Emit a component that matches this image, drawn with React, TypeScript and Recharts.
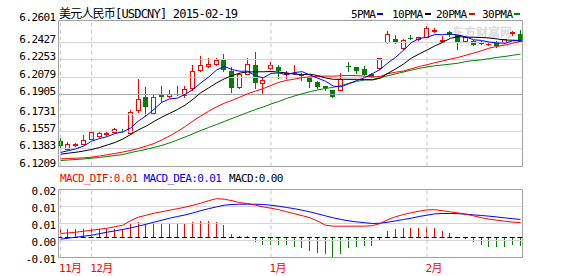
import React from "react";
import { ComposedChart, Bar, Line, XAxis, YAxis, ReferenceLine, ReferenceArea } from "recharts";

// ---------- data ----------
const OPEN = [
  6.1448, 6.1378, 6.1418, 6.1425, 6.1473, 6.1500, 6.1519, 6.1536, 6.1552, 6.1527,
  6.1743, 6.1867, 6.1717, 6.1886, 6.1881, 6.1905, 6.1886, 6.1956, 6.2131, 6.2169,
  6.2184, 6.2232, 6.2124, 6.1965, 6.2093, 6.2179, 6.2007, 6.2148, 6.2162, 6.2091,
  6.2099, 6.2077, 6.2060, 6.2013, 6.1972, 6.1934, 6.1938, 6.2167, 6.2162, 6.2134,
  6.2093, 6.2146, 6.2396, 6.2429, 6.2339, 6.2434, 6.2420, 6.2448, 6.2501, 6.2407,
  6.2491, 6.2458, 6.2401, 6.2410, 6.2382, 6.2375, 6.2396, 6.2394, 6.2484, 6.2477,
];
const HIGH = [
  6.1486, 6.1438, 6.1431, 6.1514, 6.1543, 6.1538, 6.1545, 6.1576, 6.1568, 6.1743,
  6.2045, 6.1965, 6.1893, 6.1981, 6.1943, 6.1972, 6.1972, 6.2179, 6.2267, 6.2242,
  6.2242, 6.2283, 6.2156, 6.2101, 6.2248, 6.2296, 6.2064, 6.2207, 6.2172, 6.2124,
  6.2172, 6.2099, 6.2067, 6.2020, 6.1977, 6.1939, 6.2105, 6.2203, 6.2162, 6.2165,
  6.2096, 6.2248, 6.2501, 6.2463, 6.2425, 6.2458, 6.2448, 6.2549, 6.2525, 6.2453,
  6.2503, 6.2463, 6.2444, 6.2415, 6.2410, 6.2386, 6.2401, 6.2429, 6.2501, 6.2506,
];
const LOW = [
  6.1395, 6.1374, 6.1409, 6.1424, 6.1471, 6.1495, 6.1505, 6.1533, 6.1536, 6.1521,
  6.1727, 6.1695, 6.1714, 6.1822, 6.1867, 6.1886, 6.1870, 6.1943, 6.2124, 6.2153,
  6.2181, 6.2124, 6.1917, 6.1962, 6.2091, 6.1962, 6.1910, 6.2139, 6.2053, 6.2053,
  6.2091, 6.2036, 6.1965, 6.1962, 6.1934, 6.1867, 6.1934, 6.2124, 6.2102, 6.2082,
  6.2058, 6.2143, 6.2391, 6.2382, 6.2334, 6.2425, 6.2417, 6.2444, 6.2489, 6.2401,
  6.2455, 6.2331, 6.2398, 6.2367, 6.2377, 6.2372, 6.2353, 6.2391, 6.2467, 6.2394,
];
const CLOSE = [
  6.1403, 6.1428, 6.1420, 6.1463, 6.1540, 6.1524, 6.1524, 6.1568, 6.1538, 6.1733,
  6.1854, 6.1774, 6.1874, 6.1870, 6.1898, 6.1891, 6.1950, 6.2115, 6.2172, 6.2184,
  6.2220, 6.2129, 6.1958, 6.2093, 6.2188, 6.2003, 6.2029, 6.2172, 6.2115, 6.2102,
  6.2105, 6.2072, 6.2013, 6.1965, 6.1953, 6.1870, 6.2043, 6.2162, 6.2115, 6.2086,
  6.2062, 6.2245, 6.2477, 6.2385, 6.2417, 6.2427, 6.2444, 6.2531, 6.2510, 6.2418,
  6.2458, 6.2398, 6.2442, 6.2369, 6.2388, 6.2378, 6.2358, 6.2427, 6.2489, 6.2398,
];
const MA5 = [
  6.1343, 6.1360, 6.1378, 6.1405, 6.1451, 6.1475, 6.1494, 6.1524, 6.1539, 6.1577,
  6.1643, 6.1693, 6.1755, 6.1821, 6.1854, 6.1861, 6.1897, 6.1945, 6.2005, 6.2062,
  6.2128, 6.2164, 6.2133, 6.2117, 6.2118, 6.2074, 6.2054, 6.2097, 6.2101, 6.2084,
  6.2105, 6.2113, 6.2081, 6.2051, 6.2022, 6.1975, 6.1969, 6.1999, 6.2029, 6.2055,
  6.2094, 6.2134, 6.2197, 6.2251, 6.2317, 6.2390, 6.2430, 6.2441, 6.2466, 6.2466,
  6.2472, 6.2463, 6.2445, 6.2417, 6.2411, 6.2395, 6.2387, 6.2384, 6.2408, 6.2410,
];
const MA10 = [
  6.1326, 6.1336, 6.1345, 6.1357, 6.1371, 6.1390, 6.1414, 6.1438, 6.1471, 6.1514,
  6.1559, 6.1594, 6.1639, 6.1680, 6.1716, 6.1752, 6.1795, 6.1850, 6.1913, 6.1958,
  6.2005, 6.2045, 6.2075, 6.2100, 6.2110, 6.2112, 6.2112, 6.2115, 6.2109, 6.2101,
  6.2089, 6.2084, 6.2089, 6.2076, 6.2053, 6.2040, 6.2041, 6.2040, 6.2040, 6.2038,
  6.2034, 6.2051, 6.2098, 6.2140, 6.2186, 6.2242, 6.2282, 6.2319, 6.2358, 6.2392,
  6.2431, 6.2447, 6.2443, 6.2441, 6.2439, 6.2434, 6.2425, 6.2415, 6.2413, 6.2411,
];
const MA20 = [
  6.1281, 6.1285, 6.1288, 6.1292, 6.1298, 6.1309, 6.1321, 6.1333, 6.1347, 6.1362,
  6.1381, 6.1404, 6.1428, 6.1462, 6.1500, 6.1543, 6.1590, 6.1643, 6.1691, 6.1736,
  6.1777, 6.1812, 6.1839, 6.1870, 6.1903, 6.1927, 6.1952, 6.1982, 6.2011, 6.2030,
  6.2042, 6.2057, 6.2064, 6.2069, 6.2071, 6.2070, 6.2075, 6.2077, 6.2075, 6.2070,
  6.2062, 6.2068, 6.2094, 6.2108, 6.2120, 6.2141, 6.2162, 6.2179, 6.2199, 6.2215,
  6.2233, 6.2249, 6.2270, 6.2291, 6.2312, 6.2338, 6.2354, 6.2367, 6.2385, 6.2401,
];
const MA30 = [
  6.1266, 6.1271, 6.1276, 6.1281, 6.1288, 6.1295, 6.1304, 6.1314, 6.1323, 6.1342,
  6.1357, 6.1372, 6.1391, 6.1410, 6.1434, 6.1462, 6.1491, 6.1521, 6.1552, 6.1581,
  6.1609, 6.1638, 6.1667, 6.1695, 6.1724, 6.1752, 6.1776, 6.1805, 6.1829, 6.1858,
  6.1881, 6.1903, 6.1922, 6.1939, 6.1953, 6.1964, 6.1982, 6.2002, 6.2021, 6.2033,
  6.2039, 6.2055, 6.2075, 6.2092, 6.2110, 6.2128, 6.2144, 6.2158, 6.2169, 6.2177,
  6.2185, 6.2194, 6.2210, 6.2219, 6.2226, 6.2238, 6.2249, 6.2258, 6.2270, 6.2280,
];
const DIF = [
  0.00206, 0.00224, 0.00245, 0.00274, 0.00303, 0.00333, 0.00362, 0.00406, 0.00450, 0.00583,
  0.00686, 0.00744, 0.00803, 0.00847, 0.00891, 0.00936, 0.00980, 0.01038, 0.01097, 0.01171,
  0.01230, 0.01215, 0.01171, 0.01112, 0.01088, 0.01038, 0.00988, 0.00950, 0.00906, 0.00847,
  0.00789, 0.00730, 0.00671, 0.00568, 0.00450, 0.00421, 0.00421, 0.00421, 0.00421, 0.00421,
  0.00436, 0.00500, 0.00612, 0.00700, 0.00765, 0.00818, 0.00862, 0.00900, 0.00906, 0.00877,
  0.00841, 0.00812, 0.00774, 0.00724, 0.00671, 0.00627, 0.00597, 0.00568, 0.00539, 0.00530,
];
const DEA = [
  0.00039, 0.00068, 0.00098, 0.00127, 0.00156, 0.00201, 0.00245, 0.00283, 0.00324, 0.00371,
  0.00421, 0.00480, 0.00539, 0.00597, 0.00656, 0.00706, 0.00753, 0.00812, 0.00877, 0.00936,
  0.00988, 0.01038, 0.01059, 0.01068, 0.01068, 0.01068, 0.01059, 0.01038, 0.01009, 0.00971,
  0.00936, 0.00891, 0.00841, 0.00783, 0.00724, 0.00665, 0.00618, 0.00577, 0.00547, 0.00524,
  0.00500, 0.00509, 0.00539, 0.00577, 0.00618, 0.00656, 0.00706, 0.00744, 0.00783, 0.00794,
  0.00794, 0.00788, 0.00774, 0.00753, 0.00736, 0.00715, 0.00692, 0.00665, 0.00642, 0.00618,
];
const HIST = [
  0.0025, 0.0025, 0.0025, 0.0027, 0.0028, 0.0027, 0.0025, 0.0027, 0.0027, 0.0045,
  0.0047, 0.0045, 0.0045, 0.0045, 0.0042, 0.0040, 0.0042, 0.0047, 0.0050, 0.0050,
  0.0047, 0.0037, 0.0010, 0.0005, 0.0004, -0.0013, -0.0020, -0.0020, -0.0020, -0.0020,
  -0.0026, -0.0031, -0.0038, -0.0046, -0.0048, -0.0058, -0.0048, -0.0031, -0.0026, -0.0023,
  -0.0023, -0.0008, 0.0019, 0.0025, 0.0028, 0.0028, 0.0028, 0.0031, 0.0028, 0.0019,
  0.0014, 0.0002, -0.0003, -0.0013, -0.0020, -0.0026, -0.0028, -0.0026, -0.0020, -0.0023,
];

const PRICE_DOMAIN = [6.1209, 6.2601];
const Y_TICK_VALUES = [6.2601, 6.2391, 6.2229, 6.2058, 6.1895, 6.1705, 6.1543, 6.1381, 6.1209];
const Y_TICK_LABELS = ["6.2601", "6.2427", "6.2253", "6.2079", "6.1905", "6.1731", "6.1557", "6.1383", "6.1209"];
const MID_GRID = 6.1895;

const MACD_DOMAIN = [-0.005, 0.015];
const HIST_DOMAIN = [-0.006, 0.0144];
const MACD_TICKS = [0.015, 0.01, 0.005, 0, -0.005];
const MACD_TICK_LABELS = ["0.02", "0.01", "0.01", "0.00", "-0.01"];

const MONTH_TICKS = [0, 4, 27, 47];
const MONTH_LABELS = ["11月", "12月", "1月", "2月"];

const X_DOMAIN = [-0.2565, 59.2565];

const TITLE = "美元人民币[USDCNY] 2015-02-19";
const MA_LEGEND = ["5PMA", "10PMA", "20PMA", "30PMA"];
const MACD_LEGEND = ["MACD_DIF:0.01", "MACD_DEA:0.01", "MACD:0.00"];

// ---------- styles ----------
const FONT = "'DejaVu Sans Mono', 'Noto Sans CJK SC', monospace";
const RED = "#ff0000";
const GREEN = "#008000";
const BLUE = "#0000ff";
const BLACK = "#000000";
const GRID = "#d4d4d4";
const BORDER = "#a0a0a0";
const DASH = "#c4c4c4";
const AXIS_TEXT = { fontFamily: FONT, fontSize: 11, letterSpacing: -0.6 };

const rows = OPEN.map((open, i) => ({
  i,
  open,
  high: HIGH[i],
  low: LOW[i],
  close: CLOSE[i],
  range: [LOW[i], HIGH[i]],
  ma5: MA5[i],
  ma10: MA10[i],
  ma20: MA20[i],
  ma30: MA30[i],
  dif: DIF[i],
  dea: DEA[i],
  hist: HIST[i],
}));

const Candle = (props: any) => {
  const { x, y, width, height, payload } = props;
  if (!payload || x == null || y == null || !isFinite(height)) return null;
  const { open, close, high, low } = payload;
  const col = Math.round(x + width / 2 - 0.5);
  const wx = col + 0.5;
  const span = high - low;
  const toY = (v: number) => (span > 0 ? y + ((high - v) / span) * height : y);
  const up = close >= open;
  const color = up ? RED : GREEN;
  const yH = Math.round(y);
  const yL = Math.round(y + height);
  const bTop = Math.round(toY(Math.max(open, close)));
  const bBot = Math.round(toY(Math.min(open, close)));
  const flat = bBot - bTop < 1;
  if (up) {
    return (
      <g>
        {bTop > yH && <line x1={wx} x2={wx} y1={yH} y2={bTop} stroke={color} />}
        {yL > bBot && <line x1={wx} x2={wx} y1={bBot + 1} y2={yL + 1} stroke={color} />}
        {flat ? (
          <rect x={col - 2} y={bTop} width={5} height={1} fill={color} />
        ) : (
          <rect x={col - 1.5} y={bTop + 0.5} width={4} height={bBot - bTop} fill="#ffffff" stroke={color} />
        )}
      </g>
    );
  }
  return (
    <g>
      <line x1={wx} x2={wx} y1={yH} y2={yL + 1} stroke={color} />
      <rect x={col - 2} y={bTop} width={5} height={Math.max(bBot - bTop, 1)} fill={color} />
    </g>
  );
};

const HistBar = (props: any) => {
  const { x, y, width, height, payload } = props;
  if (!payload || x == null || y == null || !isFinite(height)) return null;
  const col = Math.round(x + width / 2 - 0.5);
  const top = Math.round(Math.min(y, y + height));
  const h = Math.max(1, Math.round(Math.abs(height)));
  return <rect x={col} y={top} width={1} height={h} fill={payload.hist >= 0 ? RED : GREEN} />;
};

const PriceTick = (props: any) => {
  const { x, y, payload } = props;
  const idx = Y_TICK_VALUES.indexOf(payload.value);
  return (
    <text x={x} y={y - 3} textAnchor="end" dominantBaseline="central" style={AXIS_TEXT} fill={BLACK}>
      {Y_TICK_LABELS[idx]}
    </text>
  );
};

const MacdTick = (props: any) => {
  const { x, y, payload } = props;
  const idx = MACD_TICKS.indexOf(payload.value);
  return (
    <text x={x} y={y + 2} textAnchor="end" dominantBaseline="central" style={AXIS_TEXT} fill={BLACK}>
      {MACD_TICK_LABELS[idx]}
    </text>
  );
};

const MonthTick = (props: any) => {
  const { x, y, payload } = props;
  const idx = MONTH_TICKS.indexOf(payload.value);
  return (
    <text x={x - 1.5} y={y + 11} textAnchor="start" dominantBaseline="central" style={AXIS_TEXT} fill={RED}>
      {MONTH_LABELS[idx]}
    </text>
  );
};

export default function App() {
  return (
    <div style={{ position: "absolute", left: 0, top: 0, width: 578, height: 276, background: "#ffffff", overflow: "hidden" }}>
      <svg width={578} height={276} style={{ position: "absolute", left: 0, top: 0 }}>
        <text x={452} y={31} dominantBaseline="central" fontFamily="'Noto Sans CJK SC'" fontWeight="bold" fontSize={12} fill="#dadada">
          东方财富网
        </text>
        <text x={459} y={43} dominantBaseline="central" fontFamily="'DejaVu Sans'" fontSize={8.5} fill="#dadada">
          eastmoney.com
        </text>
      </svg>

      <div style={{ position: "absolute", left: 0, top: 0 }}>
        <ComposedChart width={578} height={176} data={rows} margin={{ top: 20.5, right: 55.5, bottom: 9.5, left: 0 }}>
          <XAxis dataKey="i" type="number" domain={X_DOMAIN} hide allowDataOverflow />
          <YAxis
            domain={PRICE_DOMAIN}
            ticks={Y_TICK_VALUES}
            width={58.5}
            axisLine={false}
            tickLine={false}
            tickSize={0}
            tickMargin={3}
            interval={0}
            tick={<PriceTick />}
            allowDataOverflow
          />
          {Y_TICK_VALUES.slice(1, -1).map((v) => (
            <ReferenceLine key={v} y={v} stroke={v === MID_GRID ? BORDER : GRID} />
          ))}
          {MONTH_TICKS.map((m) => (
            <ReferenceLine key={m} x={m} stroke={DASH} strokeDasharray="4 3" />
          ))}
          <Bar dataKey="range" barSize={5} shape={<Candle />} isAnimationActive={false} />
          <Line dataKey="ma30" stroke={GREEN} strokeWidth={1} dot={false} activeDot={false} isAnimationActive={false} />
          <Line dataKey="ma20" stroke={RED} strokeWidth={1} dot={false} activeDot={false} isAnimationActive={false} />
          <Line dataKey="ma10" stroke={BLACK} strokeWidth={1} dot={false} activeDot={false} isAnimationActive={false} />
          <Line dataKey="ma5" stroke={BLUE} strokeWidth={1} dot={false} activeDot={false} isAnimationActive={false} />
          <ReferenceArea x1={X_DOMAIN[0]} x2={X_DOMAIN[1]} y1={PRICE_DOMAIN[0]} y2={PRICE_DOMAIN[1]} fill="none" stroke={BORDER} />
        </ComposedChart>
      </div>

      <div style={{ position: "absolute", left: 0, top: 170 }}>
        <ComposedChart width={578} height={106} data={rows} margin={{ top: 19.5, right: 55.5, bottom: 0, left: 0 }}>
          <XAxis
            dataKey="i"
            type="number"
            domain={X_DOMAIN}
            ticks={MONTH_TICKS}
            height={18.5}
            axisLine={false}
            tickLine={false}
            tickSize={0}
            tickMargin={0}
            interval={0}
            tick={<MonthTick />}
            allowDataOverflow
          />
          <YAxis
            yAxisId="m"
            orientation="left"
            domain={MACD_DOMAIN}
            ticks={MACD_TICKS}
            width={58.5}
            axisLine={false}
            tickLine={false}
            tickSize={0}
            tickMargin={3}
            interval={0}
            tick={<MacdTick />}
            allowDataOverflow
          />
          <YAxis yAxisId="h" orientation="right" domain={HIST_DOMAIN} hide allowDataOverflow />
          {MACD_TICKS.slice(1, -1).map((v) => (
            <ReferenceLine key={v} yAxisId="m" y={v} stroke={GRID} />
          ))}
          {MONTH_TICKS.map((m) => (
            <ReferenceLine key={m} yAxisId="m" x={m} stroke={DASH} strokeDasharray="4 3" />
          ))}
          <Bar yAxisId="h" dataKey="hist" barSize={1} shape={<HistBar />} isAnimationActive={false} />
          <ReferenceLine yAxisId="h" y={0} stroke={BLACK} strokeDasharray="5 2.8" />
          <Line yAxisId="m" dataKey="dea" stroke={BLUE} strokeWidth={1} dot={false} activeDot={false} isAnimationActive={false} />
          <Line yAxisId="m" dataKey="dif" stroke={RED} strokeWidth={1} dot={false} activeDot={false} isAnimationActive={false} />
          <ReferenceArea yAxisId="m" x1={X_DOMAIN[0]} x2={X_DOMAIN[1]} y1={MACD_DOMAIN[0]} y2={MACD_DOMAIN[1]} fill="none" stroke={BORDER} />
        </ComposedChart>
      </div>

      <svg width={578} height={276} style={{ position: "absolute", left: 0, top: 0, pointerEvents: "none" }}>
        <text x={59} y={14} dominantBaseline="central" style={{ fontFamily: FONT, fontSize: 12, letterSpacing: -0.8 }} fill={BLACK}>
          {TITLE}
        </text>
        <text x={351} y={14} dominantBaseline="central" style={{ fontFamily: FONT, fontSize: 11, letterSpacing: -0.5 }} fill={BLACK}>{MA_LEGEND[0]}</text>
        <rect x={377} y={13} width={6} height={2} fill={BLUE} />
        <text x={392} y={14} dominantBaseline="central" style={{ fontFamily: FONT, fontSize: 11, letterSpacing: -0.5 }} fill={BLACK}>{MA_LEGEND[1]}</text>
        <rect x={425} y={13} width={6} height={2} fill={BLACK} />
        <text x={436} y={14} dominantBaseline="central" style={{ fontFamily: FONT, fontSize: 11, letterSpacing: -0.5 }} fill={BLACK}>{MA_LEGEND[2]}</text>
        <rect x={469} y={13} width={6} height={2} fill={RED} />
        <text x={482} y={14} dominantBaseline="central" style={{ fontFamily: FONT, fontSize: 11, letterSpacing: -0.5 }} fill={BLACK}>{MA_LEGEND[3]}</text>
        <rect x={514} y={13} width={6} height={2} fill={GREEN} />

        <text x={60} y={178.5} dominantBaseline="central" style={{ fontFamily: FONT, fontSize: 11, letterSpacing: -0.65 }} fill={RED}>{MACD_LEGEND[0]}</text>
        <text x={143.5} y={178.5} dominantBaseline="central" style={{ fontFamily: FONT, fontSize: 11, letterSpacing: -0.65 }} fill={BLUE}>{MACD_LEGEND[1]}</text>
        <text x={229} y={178.5} dominantBaseline="central" style={{ fontFamily: FONT, fontSize: 11, letterSpacing: -0.65 }} fill={BLACK}>{MACD_LEGEND[2]}</text>
      </svg>
    </div>
  );
}
